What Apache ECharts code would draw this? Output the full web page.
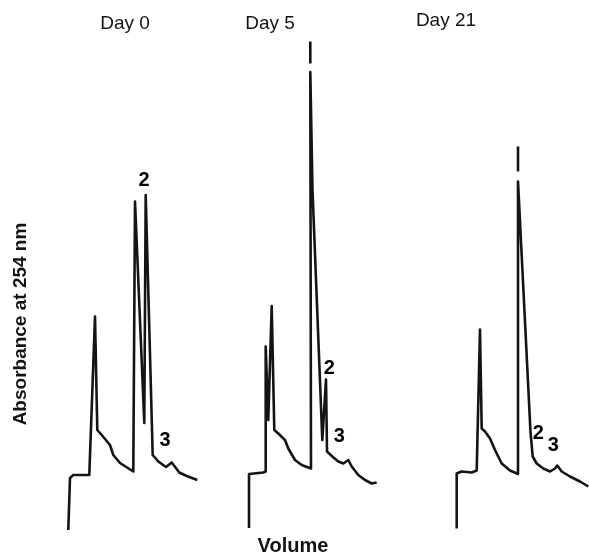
<!DOCTYPE html>
<html>
<head>
<meta charset="utf-8">
<script src="https://cdn.jsdelivr.net/npm/echarts@6/dist/echarts.min.js"></script>
<style>
html,body{margin:0;padding:0;background:#fff;}
#c{width:589px;height:555px;}
</style>
</head>
<body>
<div id="c"></div>
<script>
// Panel titles
const panelTitles = ['Day 0', 'Day 5', 'Day 21'];

// Day 0 trace (volume, absorbance)
const day0Vol = [0.03, 0.2, 0.53, 2.13, 2.7, 2.93, 3.37, 4.2, 4.53, 5.2, 6.53, 6.7, 7.63, 7.77, 8.47, 9.03, 9.8, 10.37, 11.13, 11.87, 12.93];
const day0Abs = [0, 0.104, 0.11, 0.11, 0.427, 0.2, 0.19, 0.17, 0.15, 0.134, 0.117, 0.657, 0.214, 0.67, 0.15, 0.137, 0.126, 0.135, 0.115, 0.108, 0.1];

// Day 5 trace
const day5Vol = [0, 0, 0.2, 1.43, 1.67, 1.67, 1.93, 2.27, 2.53, 2.93, 3.6, 3.93, 4.6, 5.27, 6.2, 6.13, 6.35, 7.33, 7.7, 7.8, 8.33, 8.93, 9.43, 9.93, 10.27, 10.93, 11.6, 12.27, 12.77];
const day5Abs = [0.004, 0.112, 0.115, 0.115, 0.117, 0.367, 0.22, 0.448, 0.2, 0.193, 0.18, 0.163, 0.14, 0.13, 0.123, 0.916, 0.68, 0.18, 0.301, 0.157, 0.147, 0.137, 0.133, 0.14, 0.127, 0.11, 0.1, 0.093, 0.095];
// off-scale continuation mark for the main Day 5 peak
const day5CapVol = [6.13, 6.13];
const day5CapAbs = [0.977, 0.933];

// Day 21 trace
const day21Vol = [0.07, 0.07, 0.57, 1.57, 2.07, 2.4, 2.57, 2.9, 3.4, 3.9, 4.57, 5.4, 6.2, 6.2, 7.45, 7.67, 8.07, 8.73, 9.4, 9.9, 10.13, 10.57, 11.4, 12.4, 13.23];
const day21Abs = [0.003, 0.113, 0.117, 0.115, 0.119, 0.401, 0.203, 0.197, 0.183, 0.16, 0.133, 0.119, 0.112, 0.697, 0.196, 0.147, 0.133, 0.123, 0.117, 0.123, 0.129, 0.117, 0.107, 0.097, 0.087];
const day21CapVol = [6.2, 6.2];
const day21CapAbs = [0.767, 0.717];

// Peak number labels [volume, absorbance, text]
const day0Peaks = [[7.6, 0.7, '2'], [9.7, 0.18, '3']];
const day5Peaks = [[8.03, 0.323, '2'], [9.03, 0.187, '3']];
const day21Peaks = [[8.23, 0.193, '2'], [9.73, 0.169, '3']];

const axisTitleY = 'Absorbance at 254 nm';
const axisTitleX = 'Volume';

const zip = (a, b) => a.map((v, i) => [v, b[i]]);
const lineColor = '#141414';
const FONT = 'Liberation Sans, Arial, sans-serif';

const gridLefts = [68, 249, 456];
const gridWidths = [140, 140, 133];
const xMax = [14, 14, 13.3];
const grids = gridLefts.map((l, i) => ({left: l, width: gridWidths[i], top: 20, bottom: 25}));
const xAxes = gridLefts.map((l, i) => ({type: 'value', gridIndex: i, min: 0, max: xMax[i], show: false}));
const yAxes = gridLefts.map((l, i) => ({type: 'value', gridIndex: i, min: 0, max: 1.02, show: false}));

function trace(i, vol, abs) {
  return {type: 'line', xAxisIndex: i, yAxisIndex: i, data: zip(vol, abs), symbol: 'none',
    lineStyle: {color: lineColor, width: 2.6, join: 'round'}, animation: false, clip: false, silent: true};
}
function labels(i, peaks) {
  return {type: 'scatter', xAxisIndex: i, yAxisIndex: i, symbolSize: 0, animation: false, silent: true,
    itemStyle: {color: lineColor, opacity: 1},
    data: peaks.map(p => ({value: [p[0], p[1]], name: p[2]})),
    label: {show: true, position: 'inside', formatter: '{b}', color: '#000',
      textBorderWidth: 0, fontFamily: FONT, fontWeight: 'bold', fontSize: 20}};
}

const series = [
  trace(0, day0Vol, day0Abs),
  trace(1, day5Vol, day5Abs),
  trace(1, day5CapVol, day5CapAbs),
  trace(2, day21Vol, day21Abs),
  trace(2, day21CapVol, day21CapAbs),
  labels(0, day0Peaks),
  labels(1, day5Peaks),
  labels(2, day21Peaks)
];

const titleX = [125, 270, 446];
const titleY = [24, 24, 21];

const graphic = panelTitles.map((t, i) => ({
  type: 'text', x: titleX[i], y: titleY[i],
  style: {text: t, fill: lineColor, font: '19px ' + FONT, textAlign: 'center', textVerticalAlign: 'middle'}
}));
graphic.push({
  type: 'text', x: 21, y: 324, rotation: Math.PI / 2,
  style: {text: axisTitleY, fill: lineColor, font: 'bold 19px ' + FONT, textAlign: 'center', textVerticalAlign: 'middle'}
});
graphic.push({
  type: 'text', x: 293, y: 546,
  style: {text: axisTitleX, fill: lineColor, font: 'bold 20px ' + FONT, textAlign: 'center', textVerticalAlign: 'middle'}
});

const chart = echarts.init(document.getElementById('c'), null, {renderer: 'canvas'});
chart.setOption({
  backgroundColor: '#ffffff',
  animation: false,
  grid: grids,
  xAxis: xAxes,
  yAxis: yAxes,
  series: series,
  graphic: graphic
});
</script>
</body>
</html>
